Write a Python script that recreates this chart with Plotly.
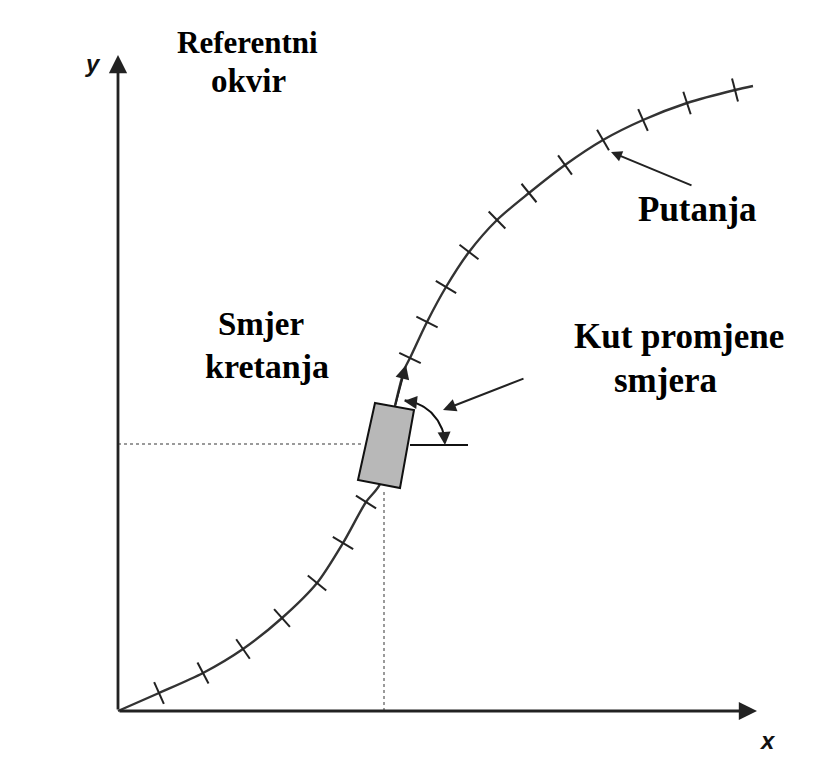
import numpy as np
import plotly.graph_objects as go

# ---- data (diagram units: origin at the corner of the reference frame) ----
curve_x = [0, 41, 85, 125, 164, 199, 225, 248, 262, 277, 287, 292, 309, 328, 351, 379, 411, 447, 485, 525, 569, 617, 635]
curve_y = [0, 18, 38, 62, 93, 128, 168, 209, 227, 305, 343, 353, 389, 424, 459, 491, 518, 546, 571, 591, 608, 621, 625]
tick_idx = [1, 2, 3, 4, 5, 6, 7, 11, 12, 13, 14, 15, 16, 17, 18, 19, 20, 21]

vehicle_x = [257, 296, 282, 240]
vehicle_y = [308, 301, 223, 231]
vehicle_pos = (266, 267)

arc_center = (282, 266)
arc_radius = 45
arc_deg = [84, 12]

x_axis_len = 639
y_axis_len = 656

labels = [
    ("Referentni", 129, 669, 31), ("okvir", 130, 630, 33),
    ("Putanja", 579, 502, 35),
    ("Smjer", 143, 387, 33), ("kretanja", 149, 345, 34),
    ("Kut promjene", 561, 375, 35), ("smjera", 547, 331, 35),
]

fig = go.Figure()

# dotted projection lines
fig.add_shape(type="line", x0=0, y0=vehicle_pos[1], x1=244, y1=vehicle_pos[1], xref="x", yref="y",
              line=dict(color="#9a9a9a", width=2, dash="dot"))
fig.add_shape(type="line", x0=vehicle_pos[0], y0=0, x1=vehicle_pos[0], y1=222, xref="x", yref="y",
              line=dict(color="#9a9a9a", width=2, dash="dot"))

# trajectory
fig.add_trace(go.Scatter(x=curve_x, y=curve_y, mode="lines",
                         line=dict(color="#333333", width=2.4, shape="spline", smoothing=0.8),
                         hoverinfo="skip"))

# tick marks perpendicular to the curve
cx = np.array(curve_x, float)
cy = np.array(curve_y, float)
tx, ty, ang = [], [], []
for i in tick_idx:
    dx = cx[i + 1] - cx[i - 1]
    dy = cy[i + 1] - cy[i - 1]
    tx.append(cx[i]); ty.append(cy[i])
    ang.append(float(np.degrees(np.arctan2(-dy, dx))))
fig.add_trace(go.Scatter(x=tx, y=ty, mode="markers",
                         marker=dict(symbol="line-ns", size=17, angle=ang,
                                     line=dict(color="#222222", width=2)),
                         hoverinfo="skip"))

# vehicle box
path = "M " + " L ".join(f"{a},{b}" for a, b in zip(vehicle_x, vehicle_y)) + " Z"
fig.add_shape(type="path", path=path, xref="x", yref="y",
              fillcolor="#b8b8b8", line=dict(color="#111111", width=2))

# horizontal reference line at vehicle
fig.add_shape(type="line", x0=292, y0=266, x1=350, y1=266, xref="x", yref="y",
              line=dict(color="#111111", width=2))

# arc of heading angle
t = np.radians(np.linspace(arc_deg[0], arc_deg[1], 40))
fig.add_trace(go.Scatter(x=arc_center[0] + arc_radius * np.cos(t),
                         y=arc_center[1] + arc_radius * np.sin(t),
                         mode="lines", line=dict(color="#111111", width=2),
                         hoverinfo="skip"))

arrows = [
    # (tip_x, tip_y, tail_x, tail_y, width, size)
    (0, y_axis_len, 0, 0, 2.8, 1.3),             # y axis
    (x_axis_len, 0, 0, 0, 2.8, 1.3),             # x axis
    (288, 346, 277, 305, 2, 1.4),                # direction of motion
    (327, 266, 326, 280, 2, 1.3),                # arc end
    (286, 310, 295, 309, 2, 1.3),                # arc start
    (325, 301, 407, 333, 2, 1.3),                # Kut promjene pointer
    (493, 559, 575, 525, 2, 1.1),                # Putanja pointer
]
for (x, y, axx, ayy, w, s) in arrows:
    fig.add_annotation(x=x, y=y, ax=axx, ay=ayy, xref="x", yref="y", axref="x", ayref="y",
                       text="", showarrow=True, arrowhead=2, arrowsize=s, arrowwidth=w,
                       arrowcolor="#222222", standoff=0, startstandoff=0)

for txt, x, y, fs in labels:
    fig.add_annotation(x=x, y=y, xref="x", yref="y", text=f"<b>{txt}</b>", showarrow=False,
                       xanchor="center", yanchor="middle",
                       font=dict(family="Liberation Serif", size=fs, color="#000000"))

fig.add_annotation(x=-25, y=648, xref="x", yref="y", text="<b><i>y</i></b>", showarrow=False,
                   font=dict(family="Liberation Sans", size=24, color="#111111"))
fig.add_annotation(x=649, y=-29, xref="x", yref="y", text="<b><i>x</i></b>", showarrow=False,
                   font=dict(family="Liberation Sans", size=24, color="#111111"))

# page body has an 8px margin, so the figure is 16px smaller and axes shifted by 8px
fig.update_layout(
    width=804, height=758, margin=dict(l=0, r=0, t=0, b=0),
    paper_bgcolor="white", plot_bgcolor="white", showlegend=False,
    xaxis=dict(range=[-110, 694], visible=False, fixedrange=True),
    yaxis=dict(range=[-55, 703], visible=False, fixedrange=True),
)

fig.write_html("out.html")
